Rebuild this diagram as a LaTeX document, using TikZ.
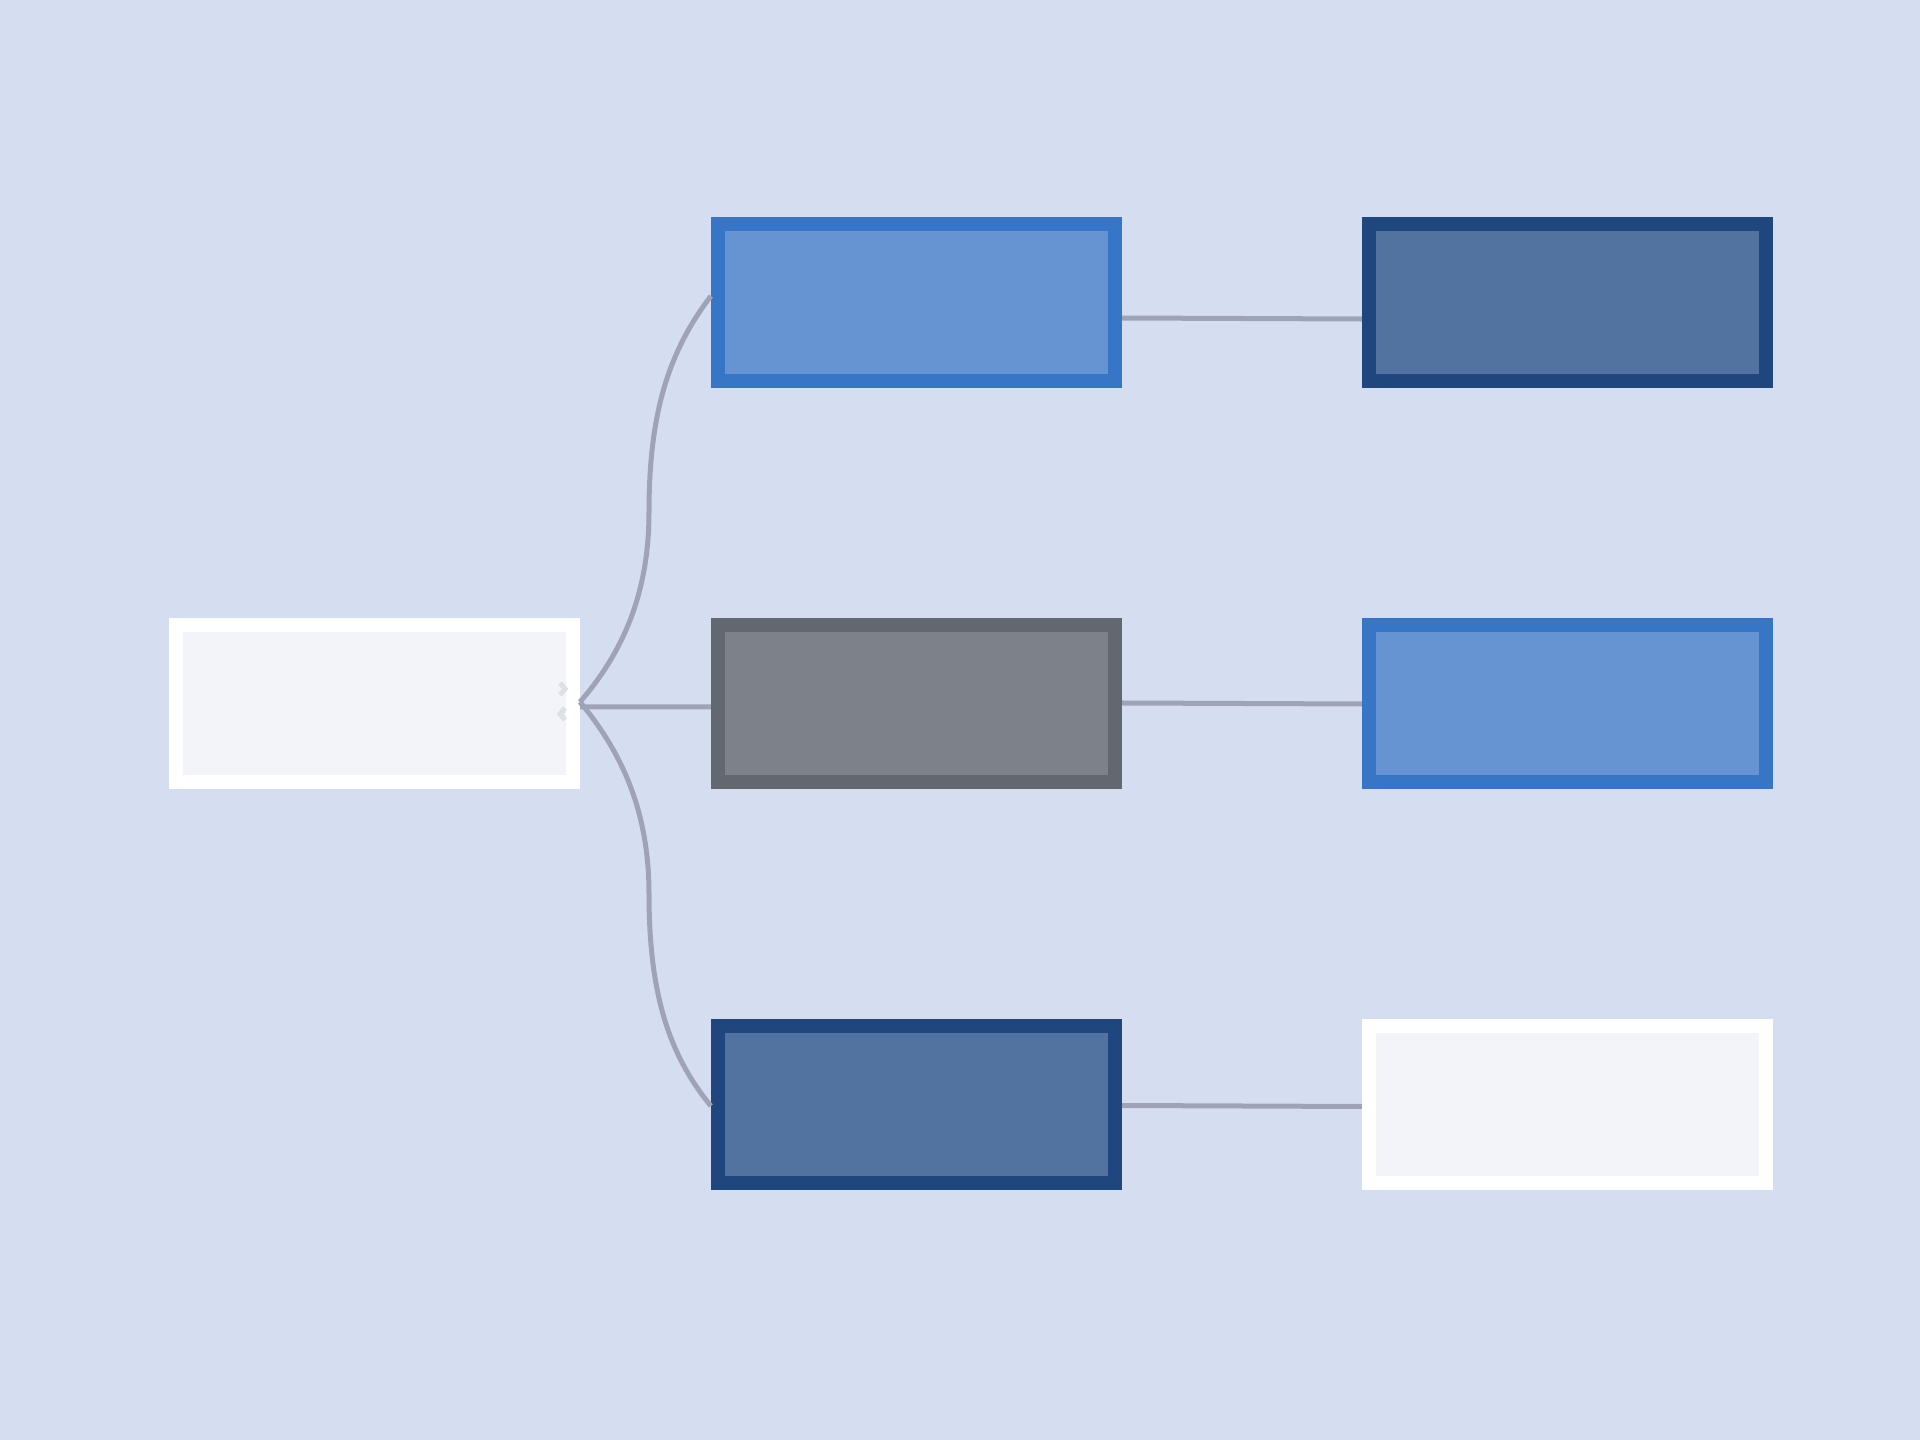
\documentclass[tikz,border=0pt]{standalone}
\usepackage{tikz}
\definecolor{bgcol}{HTML}{D5DEF0}
\definecolor{linkcol}{HTML}{A0A3B8}
\definecolor{whiteline}{HTML}{FFFFFF}
\definecolor{whitefill}{HTML}{F2F4F9}
\definecolor{blueline}{HTML}{3776C6}
\definecolor{bluefill}{HTML}{6694D2}
\definecolor{navyline}{HTML}{1F477E}
\definecolor{navyfill}{HTML}{52729F}
\definecolor{greyline}{HTML}{63676F}
\definecolor{greyfill}{HTML}{7D828A}
\definecolor{markcol}{HTML}{DDE0E7}
\tikzset{
  box/.style={rectangle,inner sep=0pt,minimum width=3.97cm,minimum height=1.57cm,line width=0.14cm},
  whitebox/.style={box,draw=whiteline,fill=whitefill},
  bluebox/.style={box,draw=blueline,fill=bluefill},
  navybox/.style={box,draw=navyline,fill=navyfill},
  greybox/.style={box,draw=greyline,fill=greyfill},
  link/.style={draw=linkcol,line width=0.05cm},
}

\begin{document}
\begin{tikzpicture}[x=0.01cm,y=-0.01cm]
  \fill[bgcol] (0,0) rectangle (1920,1440);
  \useasboundingbox (0,0) rectangle (1920,1440);
  \node[whitebox] (root) at (374.5,703.5)  {};
  \node[bluebox]  (b1)   at (916.5,302.5)  {};
  \node[greybox]  (b2)   at (916.5,703.5)  {};
  \node[navybox]  (b3)   at (916.5,1104.5) {};
  \node[navybox]  (c1)   at (1567.5,302.5) {};
  \node[bluebox]  (c2)   at (1567.5,703.5) {};
  \node[whitebox] (c3)   at (1567.5,1104.5) {};
  \coordinate (hub) at (580,702);
  % collapse mark
  \draw[markcol,line width=0.05cm] (560,683) -- (565,689) -- (560,695)
    (565,708) -- (560,714) -- (565,720);
  % links from the root
  \path[link]
    (hub) .. controls (625,650) and (649,590) .. (649,512)
          .. controls (649,410) and (670,350) .. ([yshift=0.065cm]b1.west);
  \path[link]
    (hub) .. controls (625,756) and (649,816) .. (649,894)
          .. controls (649,996) and (670,1056) .. ([yshift=-0.015cm]b3.west);
  \path[link] (580,707) -- ([yshift=-0.035cm]b2.west);
  % links to the right column
  \path[link] ([yshift=-0.155cm]b1.east) -- ([yshift=-0.165cm]c1.west);
  \path[link] ([yshift=0.005cm]b2.east) -- ([yshift=-0.005cm]c2.west);
  \path[link] ([yshift=-0.01cm]b3.east) -- ([yshift=-0.02cm]c3.west);
\end{tikzpicture}
\end{document}
